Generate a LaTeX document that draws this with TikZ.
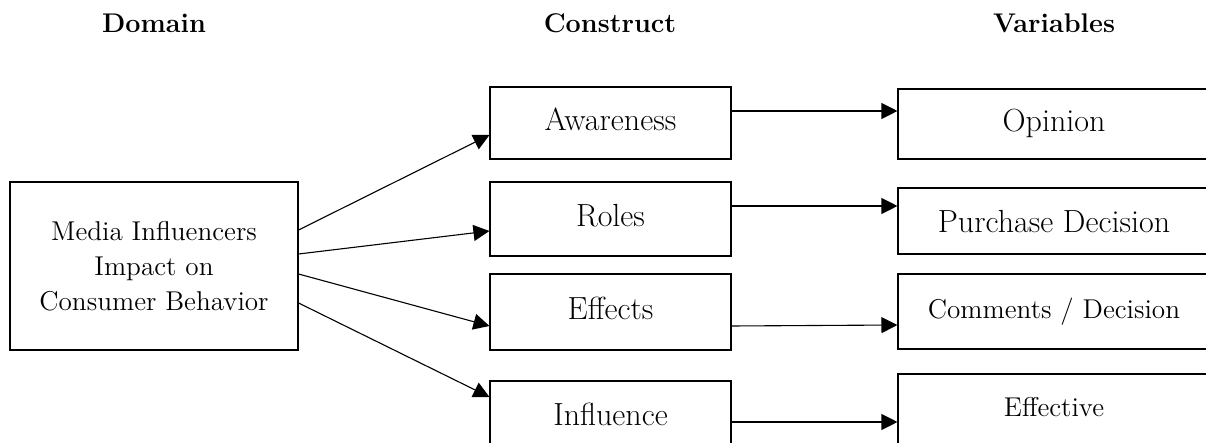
\documentclass[tikz,border=0pt]{standalone}
\usepackage{fontspec}
\usetikzlibrary{arrows.meta}
\begin{document}
\begin{tikzpicture}[x=0.5pt,y=-0.5pt,
        head/.style={font=\fontsize{13.5}{16}\selectfont\bfseries,anchor=base},
        box/.style={draw,line width=0.55pt,inner sep=0pt,align=center},
        cbox/.style={box,text depth=0.35em,font=\fontsize{16}{19}\selectfont,minimum width=120.5pt},
        vbox/.style={box,text depth=0.35em,font=\fontsize{16}{19}\selectfont,minimum width=156pt},
        link/.style={line width=0.55pt,-{Triangle[length=8pt,width=8pt]}}]
    \useasboundingbox (0,0) rectangle (1206,443);
    \clip (0,0) rectangle (1206,443);
    \node[head] (domain) at (154,33) {Domain};
    \node[head] (construct) at (610,33) {Construct};
    \node[head] (variables) at (1054,33) {Variables};
    \node[box,minimum width=144pt,minimum height=84pt,font=\fontsize{13.6}{17.5}\selectfont] (media) at (154,266) {Media Influencers\\Impact on\\Consumer Behavior};
    \node[cbox,minimum height=36pt] (aware) at (610.5,123) {Awareness};
    \node[cbox,minimum height=37pt] (roles) at (610.5,219) {Roles};
    \node[cbox,minimum height=38pt] (effects) at (610.5,312) {Effects};
    \node[cbox,minimum height=37pt] (influence) at (610.5,418) {Influence};
    \node[vbox,minimum height=35pt] (opinion) at (1054,124) {Opinion};
    \node[vbox,minimum height=33pt,text depth=0pt] (purchase) at (1054,221) {Purchase Decision};
    \node[vbox,minimum height=37.5pt,font=\fontsize{13.6}{16}\selectfont] (comments) at (1054,311.5) {Comments / Decision};
    \node[vbox,minimum height=36pt,font=\fontsize{13.6}{16}\selectfont] (effective) at (1054,410) {Effective};
    \draw[link] (media.east |- 0,230) -- (aware.west |- 0,135);
    \draw[link] (media.east |- 0,254) -- (roles.west |- 0,231);
    \draw[link] (media.east |- 0,274) -- (effects.west |- 0,326);
    \draw[link] (media.east |- 0,303) -- (influence.west |- 0,397);
    \draw[link] (aware.east |- 0,111) -- (opinion.west |- 0,111);
    \draw[link] (roles.east |- 0,206) -- (purchase.west |- 0,206);
    \draw[link] (effects.east |- 0,326) -- (comments.west |- 0,325);
    \draw[link] (influence.east |- 0,422) -- (effective.west |- 0,422);
\end{tikzpicture}
\end{document}
